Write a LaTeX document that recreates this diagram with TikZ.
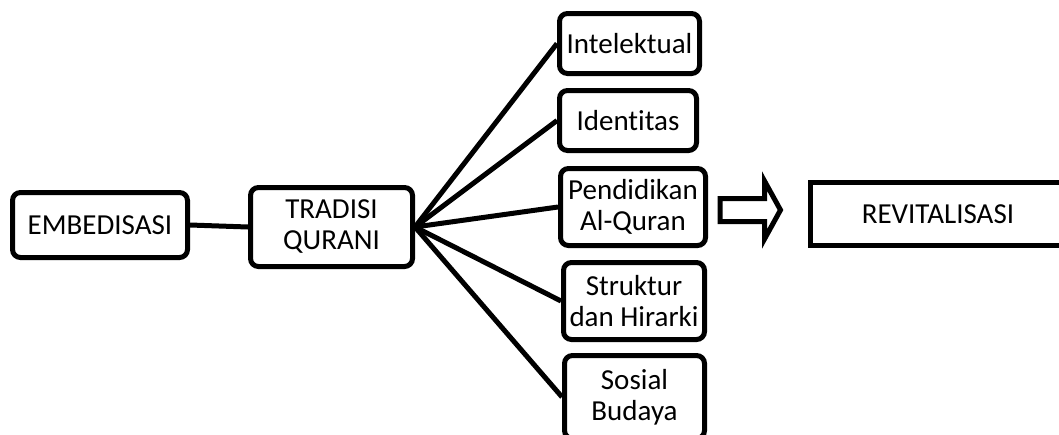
\documentclass[tikz,border=0pt]{standalone}
\usepackage{fontspec}
\setmainfont{Carlito}[Ligatures=NoCommon]
\usetikzlibrary{calc}
\begin{document}
\begin{tikzpicture}[x=1pt,y=-1pt,
     		box/.style={draw,rounded corners=8pt,line width=5pt,align=center,inner sep=0pt,
     			font=\fontsize{29}{31}\selectfont},
     		plainbox/.style={draw,line width=5pt,align=center,inner sep=0pt,
     			font=\fontsize{29}{31}\selectfont},
     		conn/.style={line width=5pt},
     		blockarr/.style={line width=5pt,line join=miter}]
     		\useasboundingbox (0,0) rectangle (1059,434);
     		% left part
     		\node[box,minimum width=175pt,minimum height=65pt] (emb) at (100,225) {EMBEDISASI};
     		\node[box,minimum width=162pt,minimum height=79pt] (trad) at (331.5,227) {TRADISI\\QURANI};
     		% branches
     		\node[box,minimum width=140pt,minimum height=60pt] (intel) at (629.5,43.5) {Intelektual};
     		\node[box,minimum width=137pt,minimum height=60pt] (iden) at (628,120.5) {Identitas};
     		\node[box,minimum width=145pt,minimum height=77pt] (pend) at (633,207) {Pendidikan\\Al-Quran};
     		\node[box,minimum width=141pt,minimum height=77pt] (strk) at (634,301) {Struktur\\dan Hirarki};
     		\node[box,minimum width=140pt,minimum height=83pt] (sos) at (634.5,397) {Sosial\\Budaya};
     		\node[plainbox,minimum width=255pt,minimum height=63pt] (revit) at (938,214) {REVITALISASI};
     		\draw[conn] (emb.east)--(trad.west);
     		\foreach \b in {intel,iden,pend,strk,sos}{
     		\draw[conn] (trad.east)--(\b.west);
     		}
     		% block arrow
     		\coordinate (arrtail) at ($(pend.east)+(12,3)$);
     		\draw[blockarr] (arrtail) ++(0,-11.5) -- ++(44.5,0) -- ++(0,-17.5) -- ++(16,29)
     			-- ++(-16,29) -- ++(0,-17.5) -- ++(-44.5,0) -- cycle;
		\end{tikzpicture}
\end{document}
